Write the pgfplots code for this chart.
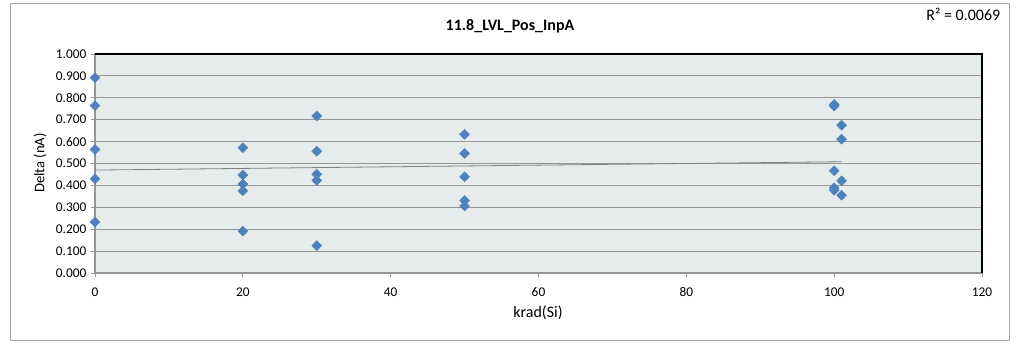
\documentclass[border=0pt]{standalone}
\usepackage{fontspec}
\setmainfont{Carlito}
\usepackage{pgfplots}
\pgfplotsset{compat=1.18}
\definecolor{plotbg}{RGB}{230,236,236}
\definecolor{markblue}{RGB}{79,129,189}
\definecolor{gridgray}{RGB}{150,150,150}

\pgfplotstableread{
x y
0 0.892
0 0.764
0 0.564
0 0.430
0 0.233
20 0.572
20 0.447
20 0.406
20 0.375
20 0.191
30 0.717
30 0.556
30 0.451
30 0.423
30 0.125
50 0.633
50 0.546
50 0.439
50 0.331
50 0.306
100 0.770
100 0.762
100 0.467
100 0.389
100 0.378
101 0.675
101 0.611
101 0.421
101 0.355
}\deltadata

\begin{document}
\begin{tikzpicture}
\useasboundingbox (0,0) rectangle (771pt,-257.25pt);
\draw[gray!70, line width=0.75pt] (7.5pt,-2.25pt) rectangle (756.75pt,-255pt);
\begin{axis}[
    at={(71.25pt,-204.75pt)}, anchor=south west,
    scale only axis,
    width=665.25pt, height=164.25pt,
    xmin=0, xmax=120, ymin=0, ymax=1,
    xtick={0,20,...,120},
    ytick={0,0.1,...,1.0},
    xtick pos=bottom, ytick pos=left,
    tick align=outside,
    major tick length=3pt,
    tick style={gridgray, line width=0.6pt},
    axis background/.style={fill=plotbg},
    axis line style={gridgray, line width=0.9pt},
    ymajorgrids,
    major grid style={gridgray, line width=0.75pt},
    yticklabel style={/pgf/number format/fixed, /pgf/number format/fixed zerofill, /pgf/number format/precision=3},
    /pgf/number format/assume math mode=true,
    tick label style={font=\fontsize{10}{12}\selectfont},
    xticklabel style={yshift=-4.5pt},
    clip=false,
]
\addplot[only marks, mark=square*, mark size=2.6pt, mark options={rotate=45, fill=markblue, draw=markblue}] table[x=x, y=y] {\deltadata};
\addplot[gray, line width=0.6pt, no marks] coordinates {(0,0.470) (101,0.508)};
\draw[black, line width=1.2pt] (rel axis cs:0,1) -- (rel axis cs:1,1) -- (rel axis cs:1,0);
\end{axis}
\node[font=\bfseries\fontsize{12}{14}\selectfont] at (382.5pt,-19.5pt) {11.8\_LVL\_Pos\_InpA};
\node[font=\fontsize{11}{13}\selectfont, rotate=90] at (30pt,-122.25pt) {Delta (nA)};
\node[font=\fontsize{12}{14}\selectfont] at (403.5pt,-234.75pt) {krad(Si)};
\node[font=\fontsize{12}{14}\selectfont, anchor=east] at (753.75pt,-10.5pt) {R² = 0.0069};
\end{tikzpicture}
\end{document}
